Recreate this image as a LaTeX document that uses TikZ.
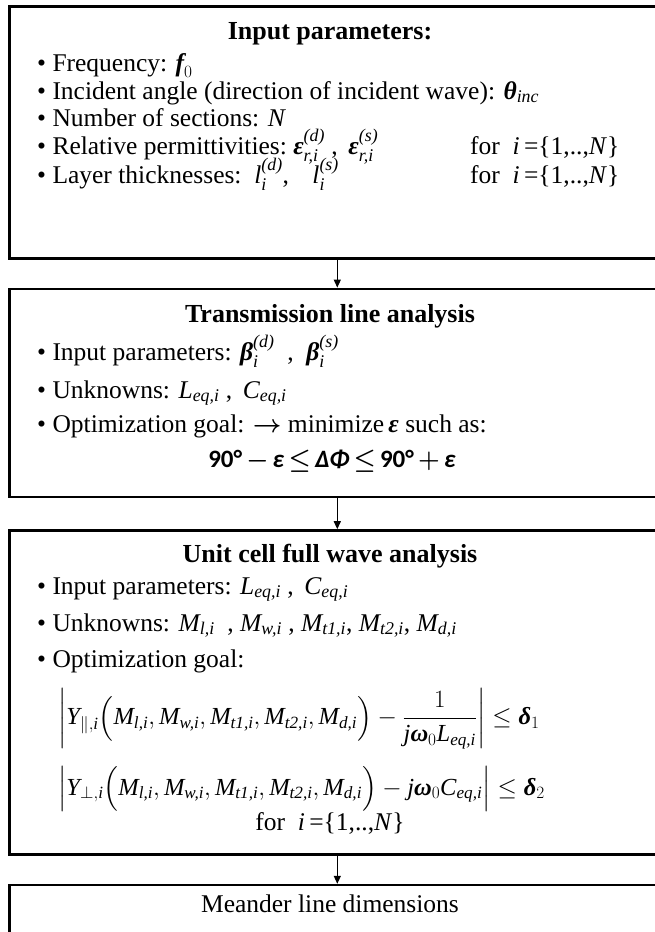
\documentclass[tikz,border=0pt]{standalone}
\usepackage{amsmath}
\usepackage[no-math]{fontspec}
\setmainfont{Liberation Serif}
\newfontfamily\eqfont{Carlito}
\usetikzlibrary{arrows.meta,positioning}
% Times-like variables set from the text font
\newcommand{\tv}[1]{\text{\itshape #1}}
\newcommand{\tb}[1]{\text{\bfseries\itshape #1}}
\newcommand{\Mv}[1]{\tv{M}_{\tv{#1,i}}}
\newcommand{\upto}{\textit{i}\,=\{1,..,\textit{N}\}}

\begin{document}
\begin{tikzpicture}[x=1pt, y=-1pt,
  stage/.style={rectangle, draw, line width=2.6pt, minimum width=656pt,
                minimum height=#1, inner sep=0pt},
  head/.style={anchor=base, inner sep=0pt, font=\fontsize{26}{30}\selectfont\bfseries},
  item/.style={anchor=base west, inner sep=0pt, font=\fontsize{25.5}{29}\selectfont},
  eqn/.style={anchor=west, inner sep=0pt, font=\fontsize{24.5}{28}\selectfont},
  flow/.style={-{Triangle[length=8pt,width=7pt]}, line width=1.3pt},
]
  \useasboundingbox (0,0) rectangle (654,932);

  % Boxes
  \node[stage=252pt, anchor=north west] (input) at (8,5) {};
  \node[stage=208pt, below=28pt of input] (tline) {};
  \node[stage=324pt, below=31pt of tline] (cell) {};
  \node[stage=58pt, below=28pt of cell] (meander) {};

  \draw[flow] (input) -- (tline);
  \draw[flow] (tline) -- (cell);
  \draw[flow] (cell) -- (meander);

  % Input parameters
  \node[head] (inhead) at (330,39) {Input parameters:};
  \node[item] (infreq) at (37,71) {• Frequency: $\tb{f}_{0}$};
  \node[item] (inangle) at (37,99) {• Incident angle (direction of incident wave): $\tb{θ}_{\tv{inc}}$};
  \node[item] (insect) at (37,126) {• Number of sections: \textit{N}};
  \node[item] (inperm) at (37,154) {• Relative permittivities:\ $\tb{ε}^{\tv{(d)}}_{\tv{r,i}}$ ,\ \,$\tb{ε}^{\tv{(s)}}_{\tv{r,i}}$};
  \node[item] (inpermfor) at (470,154) {for\ \ \upto};
  \node[item] (inlayer) at (37,183) {• Layer thicknesses:\ \ $\tv{l}^{\tv{(d)}}_{\tv{i}}$,\ \ \ \,$\tv{l}^{\tv{(s)}}_{\tv{i}}$};
  \node[item] (inlayerfor) at (470,183) {for\ \ \upto};

  % Transmission line analysis
  \node[head] (tlhead) at (330,322) {Transmission line analysis};
  \node[item] (tlin) at (37,360) {• Input parameters: $\tb{β}^{\tv{(d)}}_{\tv{i}}$\ \ ,\ \ $\tb{β}^{\tv{(s)}}_{\tv{i}}$};
  \node[item] (tlunk) at (37,398) {• Unknowns: $\tv{L}_{\tv{eq,i}}$ ,\ \,$\tv{C}_{\tv{eq,i}}$};
  \node[item] (tlgoal) at (37,432) {• Optimization goal: $\boldsymbol{\rightarrow}$ minimize\,\textbf{\textit{ε}} such as:};
  \node[head, font=\fontsize{25}{29}\selectfont\eqfont\bfseries] (tleq) at (332,467)
    {90°\,$\boldsymbol{-}$\,\textit{ε}\,$\boldsymbol{\le}$\,\textit{ΔΦ}\,$\boldsymbol{\le}$\,90°\,$\boldsymbol{+}$\,\textit{ε}};

  % Unit cell full wave analysis
  \node[head] (cellhead) at (330,562) {Unit cell full wave analysis};
  \node[item] (cellin) at (37,594) {• Input parameters: $\tv{L}_{\tv{eq,i}}$ ,\ \,$\tv{C}_{\tv{eq,i}}$};
  \node[item] (cellunk) at (37,631) {• Unknowns: $\Mv{l}$\ \ , $\Mv{w}$ ,\ $\Mv{t1}$, $\Mv{t2}$,\ $\Mv{d}$};
  \node[item] (cellgoal) at (37,667) {• Optimization goal:};
  \node[eqn] (celleqa) at (58,719)
    {$\left|\tv{Y}_{\|,\tv{i}}\Bigl(\Mv{l},\Mv{w},\Mv{t1},\Mv{t2},\Mv{d}\Bigr)-\dfrac{1}{\tv{j}\tb{ω}_{0}\tv{L}_{\tv{eq,i}}}\right|\le\tb{δ}_{1}$};
  \node[eqn] (celleqb) at (58,789)
    {$\Bigl|\tv{Y}_{\perp,\tv{i}}\Bigl(\Mv{l},\Mv{w},\Mv{t1},\Mv{t2},\Mv{d}\Bigr)-\tv{j}\tb{ω}_{0}\tv{C}_{\tv{eq,i}}\Bigr|\le\tb{δ}_{2}$};
  \node[item, anchor=base] (cellfor) at (330,830) {for\ \ \upto};

  % Meander line dimensions
  \node[item, anchor=base] (mdtext) at (330,912) {Meander line dimensions};
\end{tikzpicture}
\end{document}
